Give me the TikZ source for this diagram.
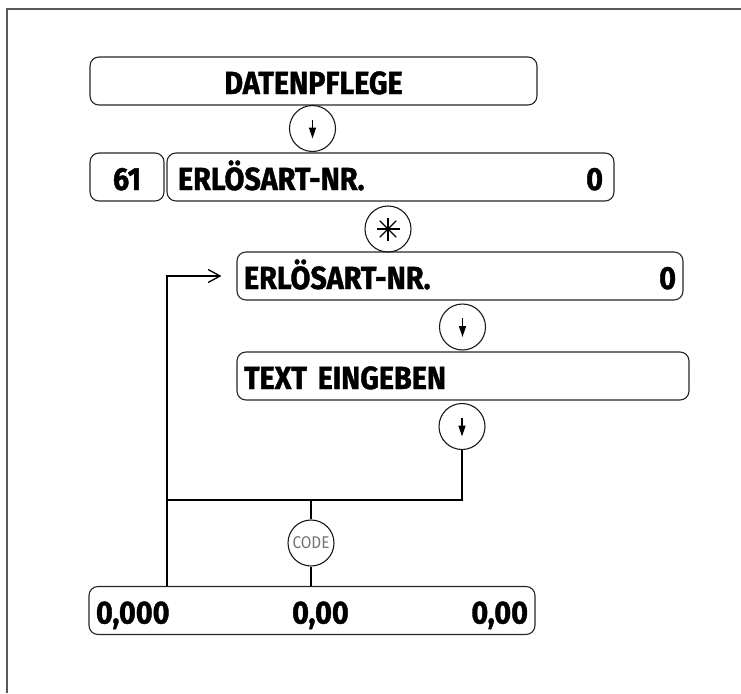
\documentclass[tikz,border=0pt]{standalone}
\usepackage{fontspec}
\usetikzlibrary{arrows.meta}
\newfontfamily\panelfont{Fira Sans}[FakeStretch=0.9, BoldFeatures={FakeBold=1.2}]

\begin{document}
\begin{tikzpicture}[
    x=1pt, y=-1pt,
    box/.style={rectangle, rounded corners=9pt, draw=black!85, line width=1.1pt, minimum height=48pt, text height=26pt, text depth=0pt, inner xsep=7pt, align=left, font=\panelfont\bfseries\fontsize{32}{32}\selectfont},
    key/.style={circle, draw=black!90, line width=1.1pt, minimum size=46pt, inner sep=0pt},
    wire/.style={line width=1.3pt},
    keyarrow/.style={-{Triangle[length=11pt,width=7pt]}, line width=1.4pt}
]
\useasboundingbox (0,0) rectangle (741,693);
% frame
\draw[line width=1.3pt, black!65] (741,9) -| (7,693);

% display boxes
\node[box, minimum width=447pt, align=center] (pflege) at (313.5,81) {DATENPFLEGE};
\node[box, minimum width=74pt, inner xsep=0pt, align=center] (nr) at (127,177) {61};
\node[box, inner xsep=11pt, text width=425pt] (art) at (390.5,177) {ERLÖSART-NR.\hfill 0};
\node[box, text width=432pt] (artedit) at (460,276) {ERLÖSART-NR.\hfill 0\hspace{3pt}};
\node[box, text width=438pt] (text) at (463,376) {TEXT EINGEBEN\hfill};
\node[box, text width=432pt] (sum) at (312,610.5) {0,000\hfill 0,00\hfill 0,00\hspace{12pt}};

% keys
\node[key] (down1) at (312.5,128.5) {};
\node[key] (star) at (388,229) {};
\node[key] (down2) at (462.5,327) {};
\node[key] (down3) at (462,426.5) {};
\node[key, text=black!55, font=\panelfont\fontsize{17}{17}\selectfont] (code) at (311,543) {CODE};

\foreach \k in {down1,down2,down3}
    \draw[keyarrow] ([yshift=9pt]\k.center) -- ([yshift=-10pt]\k.center);
\foreach \a in {0,45,90,135}
    \draw[line width=1.1pt] ([shift={(\a:11.5pt)}]star.center) -- ([shift={(\a+180:11.5pt)}]star.center);

% loop back
\coordinate (turn) at (167,500);
\draw[wire] (down3.south) |- (turn);
\draw[wire, -{Straight Barb[length=12pt,width=13pt]}, shorten >=15pt] (sum.north -| turn) |- (artedit.west);
\draw[wire] (code.north) -- (code.north |- turn);
\draw[wire] (code.south) -- (code.south |- sum.north);
\end{tikzpicture}
\end{document}
